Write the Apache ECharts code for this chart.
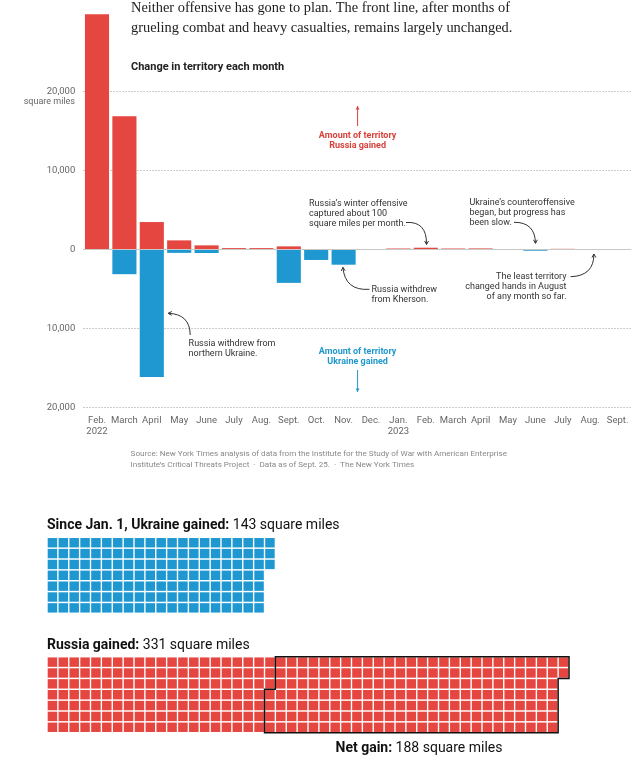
<!DOCTYPE html>
<html><head><meta charset="utf-8">
<script src="https://cdn.jsdelivr.net/npm/echarts@6/dist/echarts.min.js"></script>
<style>html,body{margin:0;padding:0;background:#fff}#c{width:640px;height:768px}</style>
</head><body><div id="c"></div>
<script>
// ---------- data ----------
const months = ['Feb.\n2022','March','April','May','June','July','Aug.','Sept.','Oct.','Nov.','Dec.','Jan.\n2023','Feb.','March','April','May','June','July','Aug.','Sept.'];
const russiaGained  = [29800,16900,3500,1180,550,200,200,420,0,0,60,150,250,150,160,80,40,110,10,0];
const ukraineGained = [0,3100,16100,400,420,0,0,4200,1300,1900,0,0,0,0,0,0,130,0,5,0];
const yTicks = [-20000,-10000,0,10000,20000];
const ukraineSinceJan = 143;
const russiaSinceJan = 331;
const waffleRows = 7;
const waffleCols = 48;

// ---------- styles ----------
const RED = '#e5463f', BLUE = '#1f98d1';
const SANS = 'Roboto, "Liberation Sans", sans-serif';
const SERIF = '"Liberation Serif", "DejaVu Serif", serif';

function cells(n){const a=[];for(let i=0;i<n;i++)a.push([Math.floor(i/waffleRows)+0.5,(i%waffleRows)+0.5]);return a;}

const chart = echarts.init(document.getElementById('c'), null, {renderer:'canvas'});

function txt(x,y,text,o){
  o=o||{};
  return {type:'text',x:x,y:y,scaleX:o.sx||1,silent:true,z:50,
    style:{text:text,font:o.font||('9px '+SANS),fill:o.fill||'#333',align:o.align||'left',verticalAlign:o.va||'middle',lineHeight:o.lh||10,rich:o.rich}};
}
function arrow(x1,y1,cx,cy,x2,y2,color,filled){
  color=color||'#333';
  const dx=x2-cx, dy=y2-cy, L=Math.hypot(dx,dy)||1, ux=dx/L, uy=dy/L;
  const s=4, a=0.5;
  const p1=[x2-s*(ux*Math.cos(a)-uy*Math.sin(a)), y2-s*(uy*Math.cos(a)+ux*Math.sin(a))];
  const p2=[x2-s*(ux*Math.cos(-a)-uy*Math.sin(-a)), y2-s*(uy*Math.cos(-a)+ux*Math.sin(-a))];
  const els=[{type:'bezierCurve',silent:true,z:50,shape:{x1:x1,y1:y1,cpx1:cx,cpy1:cy,x2:x2,y2:y2},style:{stroke:color,lineWidth:1,fill:null}}];
  if(filled) els.push({type:'polygon',silent:true,z:50,shape:{points:[p1,[x2,y2],p2]},style:{fill:color}});
  else els.push({type:'polyline',silent:true,z:50,shape:{points:[p1,[x2,y2],p2]},style:{stroke:color,lineWidth:1,fill:null}});
  return els;
}

const fmt = v => Math.abs(v).toLocaleString('en-US');
const titleRich = {b:{font:'bold 14px '+SANS,fill:'#111'}};

const graphics = [].concat(
  [txt(131,8.5,'Neither offensive has gone to plan. The front line, after months of',{font:'14.4px '+SERIF,fill:'#222'}),
   txt(131,28,'grueling combat and heavy casualties, remains largely unchanged.',{font:'14.4px '+SERIF,fill:'#222'}),
   txt(131,67.7,'Change in territory each month',{font:'bold 11px '+SANS,fill:'#222'}),
   txt(75,101.5,'square miles',{font:'9px '+SANS,fill:'#666',align:'right'}),
   txt(357.6,140.7,'Amount of territory\nRussia gained',{font:'bold 9px '+SANS,fill:'#d8423c',align:'center'}),
   txt(357.6,357,'Amount of territory\nUkraine gained',{font:'bold 9px '+SANS,fill:'#1f98cc',align:'center'}),
   txt(309,213.3,"Russia’s winter offensive\ncaptured about 100\nsquare miles per month.",{}),
   txt(469.4,213,"Ukraine’s counteroffensive\nbegan, but progress has\nbeen slow.",{}),
   txt(371.4,295,'Russia withdrew\nfrom Kherson.',{}),
   txt(188.6,349,'Russia withdrew from\nnorthern Ukraine.',{}),
   txt(566.5,286.7,'The least territory\nchanged hands in August\nof any month so far.',{align:'right'}),
   txt(130.6,454.3,'Source: New York Times analysis of data from the Institute for the Study of War with American Enterprise',{font:'8.1px '+SANS,fill:'#888'}),
   txt(130.6,464.5,'Institute’s Critical Threats Project  ·  Data as of Sept. 25.  ·  The New York Times',{font:'8.1px '+SANS,fill:'#888'}),
   txt(47,525.7,'{b|Since Jan. 1, Ukraine gained:} '+ukraineSinceJan+' square miles',{font:'14px '+SANS,fill:'#111',rich:titleRich}),
   txt(47,645.7,'{b|Russia gained:} '+russiaSinceJan+' square miles',{font:'14px '+SANS,fill:'#111',rich:titleRich}),
   txt(335.5,748.3,'{b|Net gain:} '+(russiaSinceJan-ukraineSinceJan)+' square miles',{font:'14px '+SANS,fill:'#111',rich:titleRich})
  ],
  arrow(357.6,126,357.6,116,357.6,106,'#d8423c',true),
  arrow(357.6,370,357.6,381,357.6,392,'#1f98cc',true),
  arrow(406,222.5,427,221,426.5,244.5),
  arrow(514,222.3,535,222,535.5,243.3),
  arrow(369.4,289.3,345,291,342.9,267.3),
  arrow(190.2,335,190,314,168.2,313.3),
  arrow(570.6,276.7,594,276,593.9,254)
);

const netStart = ukraineSinceJan, netEnd = russiaSinceJan-1;
function outlineRender(params, api){
  const sc=Math.floor(netStart/waffleRows), sr=netStart%waffleRows;
  const ec=Math.floor(netEnd/waffleRows), er=netEnd%waffleRows;
  const pts=[[sc+1,0],[ec+1,0],[ec+1,er+1],[ec,er+1],[ec,waffleRows],[sc,waffleRows],[sc,sr],[sc+1,sr]].map(p=>api.coord(p));
  return {type:'polygon',shape:{points:pts},style:{fill:null,stroke:'#111',lineWidth:1.5},z2:10};
}

const option = {
  backgroundColor:'#fff',
  animation:false,
  grid:[
    {left:83.3,right:8.7,top:91.7,height:316,containLabel:false,outerBoundsMode:'none'},
    {left:47,width:522,top:537.3,height:76,containLabel:false,outerBoundsMode:'none'},
    {left:47,width:522,top:656.7,height:76,containLabel:false,outerBoundsMode:'none'}
  ],
  xAxis:[
    {type:'category',gridIndex:0,data:months,axisLine:{show:false,onZero:false},axisTick:{show:false},
     axisLabel:{interval:0,color:'#666',fontFamily:SANS,fontSize:9.5,margin:7,lineHeight:11.5,verticalAlign:'top'},splitLine:{show:false}},
    {type:'value',gridIndex:1,min:0,max:waffleCols,show:false},
    {type:'value',gridIndex:2,min:0,max:waffleCols,show:false}
  ],
  yAxis:[
    {type:'value',gridIndex:0,min:yTicks[0],max:yTicks[yTicks.length-1],interval:10000,
     axisLine:{show:false},axisTick:{show:false},
     axisLabel:{color:'#666',fontFamily:SANS,fontSize:9.5,margin:8,formatter:fmt},
     splitLine:{show:true,lineStyle:{color:'#bbb',type:[1.5,1.5],width:1}}},
    {type:'value',gridIndex:1,min:0,max:waffleRows,inverse:true,show:false},
    {type:'value',gridIndex:2,min:0,max:waffleRows,inverse:true,show:false}
  ],
  series:[
    {type:'bar',name:'Russia gained',xAxisIndex:0,yAxisIndex:0,data:russiaGained,clip:false,
     itemStyle:{color:RED},barCategoryGap:'12%',barGap:'-100%',
     markLine:{silent:true,symbol:'none',label:{show:false},lineStyle:{color:'#c8c8c8',type:'solid',width:1},data:[{yAxis:0}]}},
    {type:'bar',name:'Ukraine gained',xAxisIndex:0,yAxisIndex:0,data:ukraineGained.map(v=>-v),clip:false,
     itemStyle:{color:BLUE},barCategoryGap:'12%',barGap:'-100%'},
    {type:'scatter',xAxisIndex:1,yAxisIndex:1,data:cells(ukraineSinceJan),symbol:'rect',symbolSize:[9.5,9.4],itemStyle:{color:BLUE,opacity:1},silent:true},
    {type:'scatter',xAxisIndex:2,yAxisIndex:2,data:cells(russiaSinceJan),symbol:'rect',symbolSize:[9.5,9.4],itemStyle:{color:RED,opacity:1},silent:true},
    {type:'custom',xAxisIndex:2,yAxisIndex:2,data:[[0,0]],renderItem:outlineRender,silent:true,z:5}
  ],
  graphic:graphics
};
chart.setOption(option);
</script></body></html>
